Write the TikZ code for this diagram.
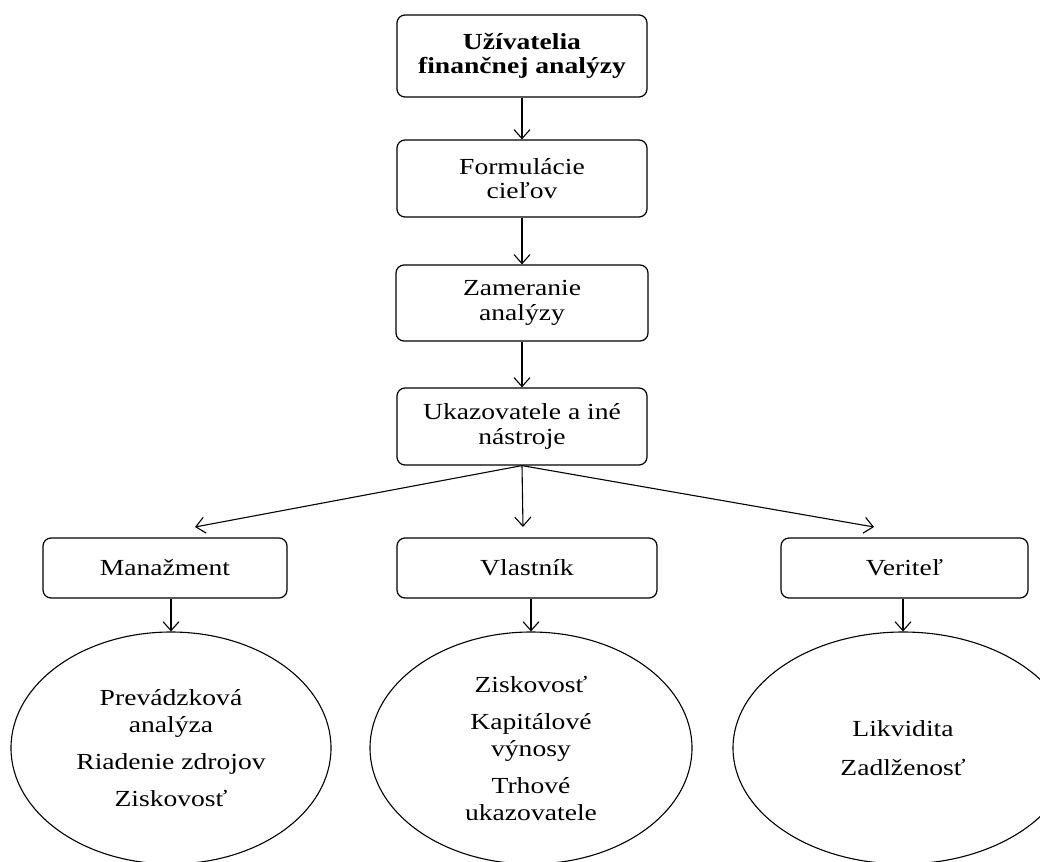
\documentclass[tikz,border=0pt]{standalone}
\usepackage{fontspec}
\setmainfont{Liberation Serif}[FakeStretch=1.2]
\usetikzlibrary{shapes.geometric,arrows.meta}
\begin{document}
\begin{tikzpicture}[x=1pt,y=-1pt,
  box/.style={draw, rounded corners=8pt, line width=1.2pt, align=center, inner sep=0pt,
    font=\fontsize{23}{24.5}\selectfont},
  oval/.style={draw, ellipse, line width=1.1pt, inner sep=0pt, align=center,
    font=\fontsize{23}{27}\selectfont},
  arr/.style={line width=1.1pt, -{Straight Barb[length=9pt,width=16pt,line width=1.1pt]}}]
\useasboundingbox (0,0) rectangle (1040,861);
\clip (0,0) rectangle (1040,861);

\node[box, minimum width=250pt, minimum height=82pt, font=\fontsize{23}{24.5}\selectfont\bfseries] (u) at (522,56) {Užívatelia\\finančnej analýzy};
\node[box, minimum width=250pt, minimum height=77pt] (f) at (522,178.5) {Formulácie\\cieľov};
\node[box, minimum width=252pt, minimum height=76pt] (z) at (522,303) {Zameranie\\analýzy};
\node[box, minimum width=250pt, minimum height=77pt] (k) at (522,426.5) {Ukazovatele a iné\\nástroje};

\node[box, minimum width=244pt, minimum height=60pt] (m) at (165,568) {Manažment};
\node[box, minimum width=260pt, minimum height=60pt] (v) at (527,568) {Vlastník};
\node[box, minimum width=247pt, minimum height=60pt] (r) at (904.5,568) {Veriteľ};

\node[oval, minimum width=320pt, minimum height=232pt] (e1) at (171,748) {Prevádzková\\analýza\\[10pt]Riadenie zdrojov\\[10pt]Ziskovosť};
\node[oval, minimum width=322pt, minimum height=232pt] (e2) at (531,748) {Ziskovosť\\[10pt]Kapitálové\\výnosy\\[10pt]Trhové\\ukazovatele};
\node[oval, minimum width=340pt, minimum height=232pt] (e3) at (903,748) {Likvidita\\[12pt]Zadlženosť};

\coordinate (tl) at (195,527);
\coordinate (tm) at (523,527);
\coordinate (tr) at (874,527);

\draw[arr] (u) -- (f);
\draw[arr] (f) -- (z);
\draw[arr] (z) -- (k);
\draw[arr] (k.south) -- (tl);
\draw[arr] (k.south) -- (tm);
\draw[arr] (k.south) -- (tr);
\draw[arr] (e1.north |- m.south) -- (e1.north);
\draw[arr] (e2.north |- v.south) -- (e2.north);
\draw[arr] (e3.north |- r.south) -- (e3.north);
\end{tikzpicture}
\end{document}
